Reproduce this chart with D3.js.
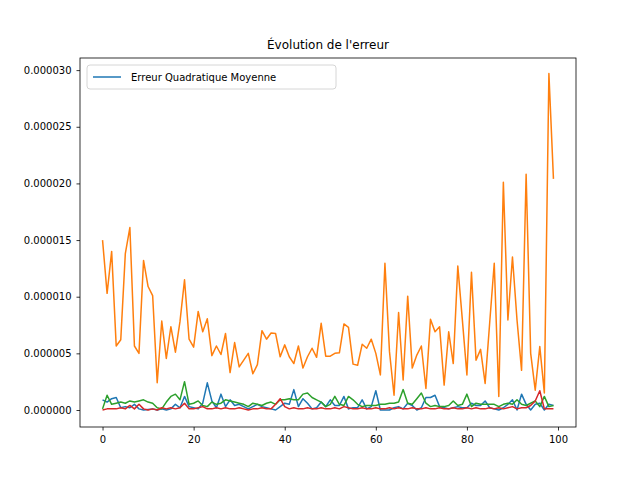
<!DOCTYPE html>
<html>
<head>
<meta charset="utf-8">
<script src="https://cdn.jsdelivr.net/npm/d3@7"></script>
<style>
  body { margin: 0; background: #fff; }
  text { font-family: "DejaVu Sans", sans-serif; }
</style>
</head>
<body>
<svg id="chart" width="640" height="480"></svg>
<script>
// values in units of 1e-6
const orange = [15.0,10.3,14.0,5.65,6.2,13.8,16.1,5.65,5.0,13.2,10.9,10.1,2.4,7.85,4.55,7.35,5.1,7.8,11.5,6.25,
  5.55,8.7,6.9,8.05,4.8,5.65,4.9,6.75,3.3,5.95,3.8,4.4,5.0,3.2,4.0,7.0,6.25,6.8,6.75,4.7,
  5.75,4.7,4.1,5.65,3.7,4.7,5.45,4.65,7.65,4.75,4.75,5.0,5.05,7.6,7.3,4.05,3.95,5.8,5.45,6.25,
  5.0,3.1,12.95,5.15,1.3,8.6,2.65,10.05,3.7,4.85,5.65,1.9,8.0,6.9,7.35,2.2,6.9,4.1,12.7,7.95,
  3.1,12.15,4.4,5.35,2.35,7.7,12.95,1.2,20.1,7.95,13.5,7.95,3.5,20.8,5.0,1.75,5.6,1.5,29.7,20.4];
const blue = [0.9,0.7,1.0,1.1,0.2,0.3,0.2,0.5,0.1,0.0,0.05,0.1,0.0,0.1,0.0,0.1,0.5,0.2,1.2,0.3,
  0.2,0.1,0.6,2.4,0.8,0.2,1.4,0.3,0.9,0.4,0.5,0.3,0.1,0.3,0.5,0.3,0.2,0.1,0.0,0.3,
  0.6,0.5,1.8,0.3,1.0,0.6,0.1,0.2,0.7,0.3,0.9,0.4,0.4,1.2,0.1,0.2,0.2,0.9,0.1,0.3,
  1.7,0.0,0.0,0.0,0.2,0.3,0.1,0.6,0.4,0.0,0.2,1.1,1.1,1.3,0.3,0.2,0.1,0.2,0.3,0.2,
  0.2,0.6,0.4,0.4,0.8,0.2,0.1,0.0,0.2,0.5,0.9,0.0,1.4,0.5,0.0,0.5,0.6,0.0,0.5,0.4];
const green = [0.1,1.3,0.5,0.6,0.7,0.6,0.8,0.7,0.8,0.9,0.7,0.6,0.2,0.1,0.7,1.2,1.4,0.9,2.5,0.5,
  0.6,0.8,0.4,0.3,0.7,0.5,0.6,0.9,0.8,0.7,0.6,0.5,0.3,0.6,0.5,0.4,0.6,0.7,0.5,0.9,
  0.9,1.0,0.9,0.9,1.4,1.5,1.1,0.9,0.7,0.3,0.5,1.2,0.5,0.4,1.2,0.9,0.5,0.3,0.4,0.4,
  0.4,0.5,0.5,0.6,0.6,0.7,1.8,0.6,0.5,1.0,1.5,0.6,0.3,0.4,0.3,0.3,0.4,0.8,0.4,0.5,
  1.4,0.3,0.6,0.5,0.5,0.5,0.5,0.3,0.5,0.6,0.5,0.9,0.5,0.4,0.6,0.8,0.3,1.2,0.3,0.4];
const red = [0.0,0.1,0.1,0.1,0.2,0.1,0.4,0.1,0.5,0.1,0.0,0.1,0.0,0.2,0.1,0.2,0.1,0.2,0.6,0.1,
  0.1,0.2,0.3,0.1,0.1,0.2,0.1,0.2,0.1,0.1,0.2,0.1,0.0,0.1,0.1,0.2,0.1,0.1,0.5,1.0,
  0.3,0.1,0.2,0.1,0.1,0.2,0.1,0.1,0.2,0.1,0.1,0.2,0.1,0.3,0.2,0.1,0.1,0.2,0.1,0.1,
  0.2,0.1,0.1,0.2,0.1,0.2,0.1,0.1,0.2,0.1,0.1,0.2,0.1,0.1,0.2,0.1,0.1,0.2,0.1,0.1,
  0.2,0.1,0.2,0.1,0.1,0.2,0.1,0.2,0.1,0.2,0.3,0.1,0.2,0.2,0.4,0.8,1.7,0.1,0.1,0.1];
const yTicks = [0, 5, 10, 15, 20, 25, 30];
const xTicks = [0, 20, 40, 60, 80, 100];

const margin = {top: 58, right: 64, bottom: 53, left: 80},
    width = 640 - margin.left - margin.right,
    height = 480 - margin.top - margin.bottom;

const svg = d3.select('#chart');
const g = svg.append('g').attr('transform', `translate(${margin.left},${margin.top})`);

const xScale = d3.scaleLinear().domain([-4.95, 103.95]).range([0, width]);
const yScale = d3.scaleLinear().domain([-1.5, 31.07]).range([height, 0]);

const line = d3.line().x((d, i) => xScale(i)).y(d => yScale(d));
const series = [
  {data: blue, color: '#1f77b4'},
  {data: orange, color: '#ff7f0e'},
  {data: green, color: '#2ca02c'},
  {data: red, color: '#d62728'}
];
g.selectAll('path.series').data(series).enter().append('path')
  .attr('class', 'series')
  .attr('fill', 'none')
  .attr('stroke', d => d.color)
  .attr('stroke-width', 1.5)
  .attr('stroke-linejoin', 'round')
  .attr('d', d => line(d.data));

const xAxis = g.append('g').attr('transform', `translate(0,${height})`)
  .call(d3.axisBottom(xScale).tickValues(xTicks).tickSize(3.5).tickPadding(5));
const yAxis = g.append('g')
  .call(d3.axisLeft(yScale).tickValues(yTicks).tickSize(3.5).tickPadding(5)
    .tickFormat(d => (d * 1e-6).toFixed(6)));
[xAxis, yAxis].forEach(a => {
  a.select('.domain').remove();
  a.selectAll('text').attr('font-size', 10).attr('fill', '#000').style('font-family', 'DejaVu Sans');
  a.selectAll('line').attr('stroke', '#000').attr('stroke-width', 0.8);
});

g.append('rect').attr('width', width).attr('height', height)
  .attr('fill', 'none').attr('stroke', '#000').attr('stroke-width', 0.8);

svg.append('text').attr('x', margin.left + width / 2).attr('y', margin.top - 9)
  .attr('text-anchor', 'middle').attr('font-size', 12).text("Évolution de l'erreur");

const lg = g.append('g').attr('transform', 'translate(7,7)');
lg.append('rect').attr('width', 249).attr('height', 24).attr('rx', 3)
  .attr('fill', '#fff').attr('stroke', '#ccc').attr('stroke-width', 0.8);
lg.append('line').attr('x1', 6).attr('x2', 34).attr('y1', 12).attr('y2', 12)
  .attr('stroke', '#1f77b4').attr('stroke-width', 1.5);
lg.append('text').attr('x', 44).attr('y', 16).attr('font-size', 10).text('Erreur Quadratique Moyenne');
</script>
</body>
</html>
